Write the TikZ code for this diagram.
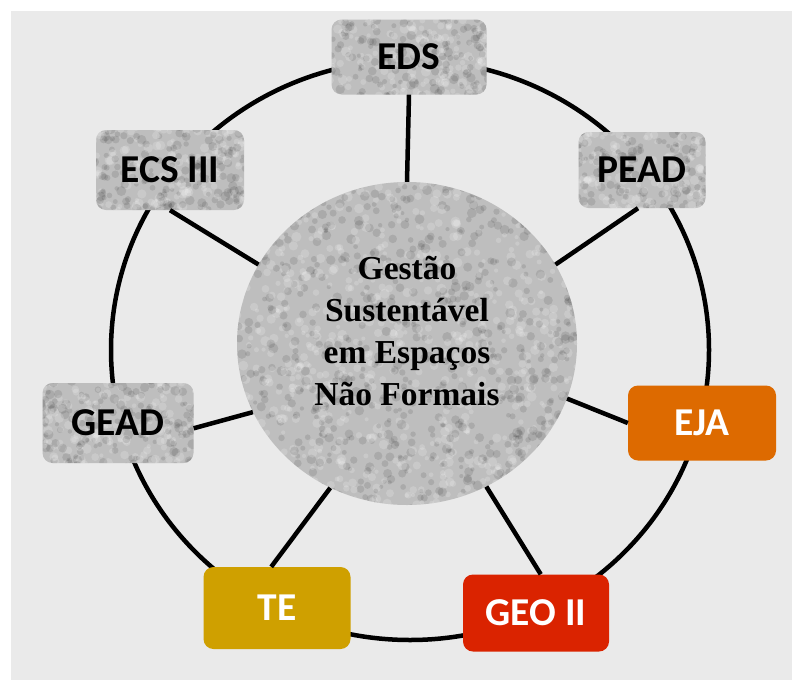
\documentclass[tikz,border=0pt]{standalone}
\usepackage{fontspec}
\setmainfont{Liberation Serif}
\newfontfamily\boxfont{Carlito}
\usetikzlibrary{calc}
\usetikzlibrary{shapes.geometric}

\definecolor{panel}{HTML}{EAEAEA}
\definecolor{stone}{HTML}{BEBEBE}
\definecolor{ejaorange}{HTML}{DD6A00}
\definecolor{geored}{HTML}{DA2300}
\definecolor{temustard}{HTML}{CFA000}

\tikzset{
  granite/.style n args={3}{fill=stone, path picture={
      \foreach \k in {1,...,#1}{
        \fill[black,opacity=.10] ($(path picture bounding box.center)+(rand*#2,rand*#3)$) circle (2pt+3pt*rnd);
        \fill[white,opacity=.18] ($(path picture bounding box.center)+(rand*#2,rand*#3)$) circle (2pt+3pt*rnd);
      }}},
  topic/.style={rounded corners=10pt, minimum width=148pt, minimum height=78pt, inner sep=0pt,
    font=\boxfont\bfseries\fontsize{39.5pt}{42pt}\selectfont},
  graytopic/.style={topic, granite={160}{80pt}{45pt}, text=black},
  colortopic/.style={topic, fill=#1, text=white},
  spoke/.style={line width=4.5pt},
}

\begin{document}
\begin{tikzpicture}[x=1pt,y=-1pt]
		% page and panel
		\useasboundingbox (0,0) rectangle (792,680);
		\fill[white] (0,0) rectangle (792,680);
		\fill[panel] (11,11) rectangle (792,680);
		% outer ring
		\coordinate (ringc) at (410,350);
		\draw[spoke] (ringc) ellipse [x radius=299pt, y radius=290pt];
		% centre
		\node[ellipse, minimum width=340pt, minimum height=323pt, inner sep=0pt, granite={800}{172pt}{164pt}] (hub) at (407,343.5) {};
		\node[align=center, font=\bfseries\fontsize{33.5pt}{42pt}\selectfont] (hubtext) at (407,331) {Gestão\\Sustentável\\em Espaços\\Não Formais};
		% topics
		\node[graytopic, minimum width=155pt, minimum height=75pt] (EDS) at (409,57) {EDS};
		\node[graytopic, minimum height=80pt] (ECS) at (170,170) {ECS III};
		\node[graytopic, minimum width=127pt, minimum height=76pt] (PEAD) at (642,170) {PEAD};
		\node[graytopic, minimum width=151pt, minimum height=80pt] (GEAD) at (118,423) {GEAD};
		\node[colortopic=ejaorange, minimum height=75pt] (EJA) at (702,423) {EJA};
		\node[colortopic=temustard, minimum width=147pt, minimum height=82pt] (TE) at (277,608) {TE};
		\node[colortopic=geored, minimum width=146pt, minimum height=77pt] (GEO) at (536,613) {GEO II};
		% spokes
		\draw[spoke] (hub.90) -- (EDS.south);
		\draw[spoke] (hub.152) -- (ECS.south);
		\draw[spoke] (hub.28) -- (PEAD.264);
		\draw[spoke] (hub.204) -- (GEAD.-4);
		\draw[spoke] (hub.-19) -- (EJA.west);
		\draw[spoke] (hub.-61) -- (GEO.83);
		\draw[spoke] (hub.-118) -- (TE.98);
	\end{tikzpicture}
\end{document}
